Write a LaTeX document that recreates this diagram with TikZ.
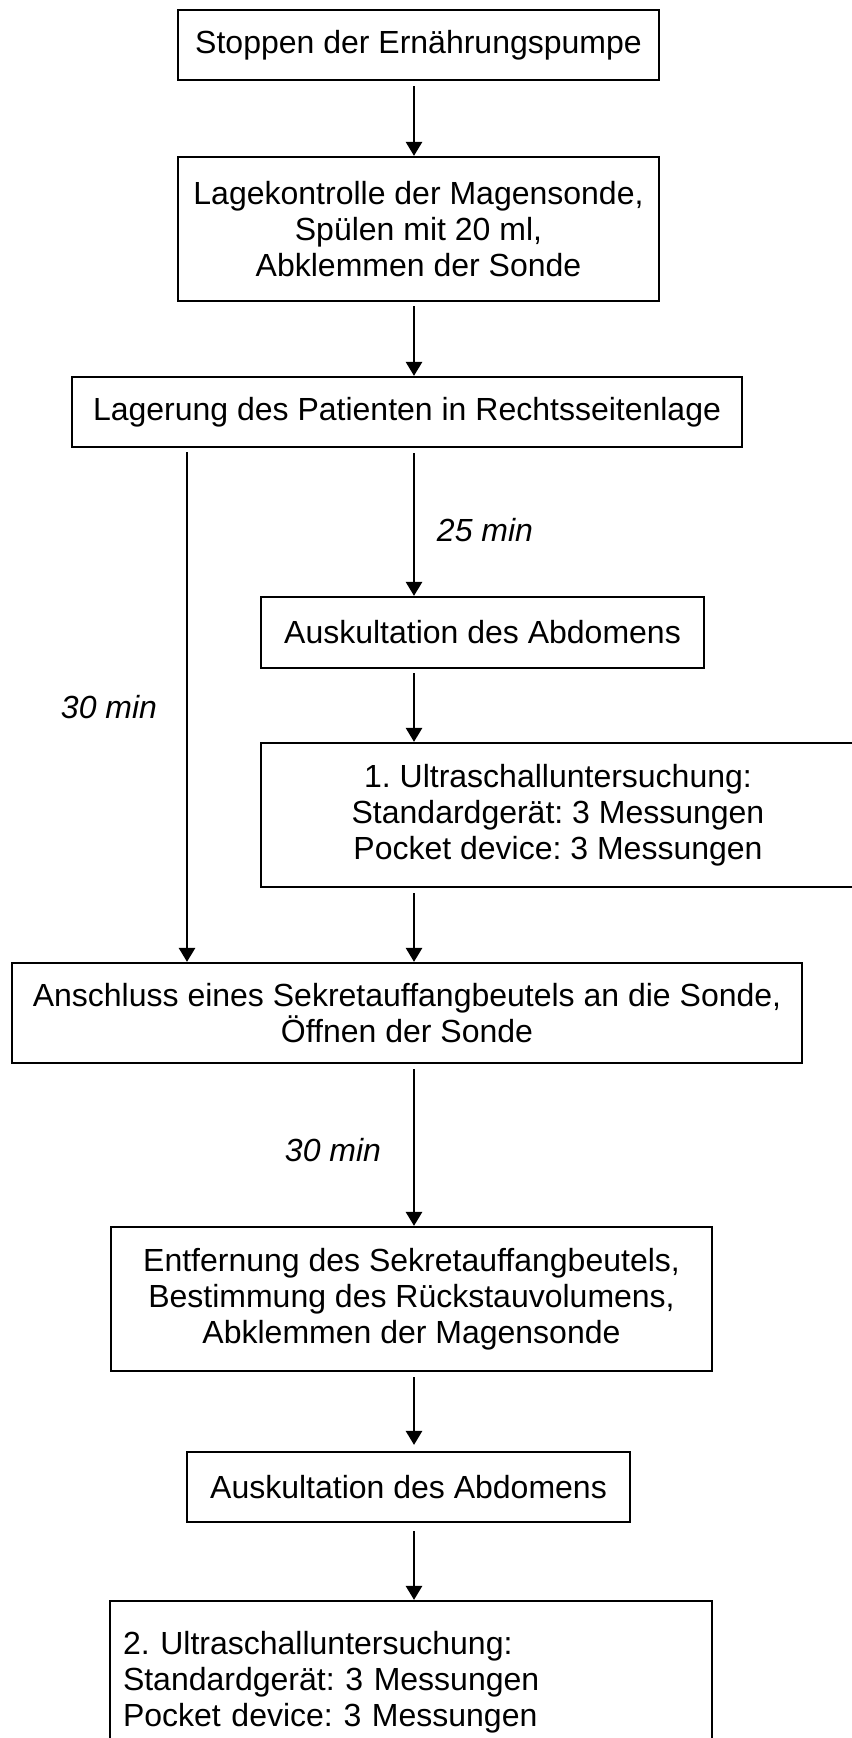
\documentclass[tikz,border=0pt]{standalone}
\usepackage{fontspec}
\setmainfont{Liberation Sans}
\usetikzlibrary{arrows.meta}
\begin{document}
\frenchspacing
\begin{tikzpicture}[x=0.5pt,y=-0.5pt,
    font=\fontsize{16}{18}\selectfont,
    box/.style={draw,line width=1.1pt,inner sep=0pt,align=center},
    arr/.style={line width=1.3pt,-{Triangle[width=8pt,length=7pt]}},
    lbl/.style={font=\fontsize{16}{18}\selectfont\itshape}]
\useasboundingbox (0,0) rectangle (851,1738);
\coordinate (ax) at (414,0);
\coordinate (lx) at (187,0);
% Schritte
\node[box,minimum width=240.5pt,minimum height=35pt] (stopp) at (418.5,45) {Stoppen der Ernährungspumpe};
\node[box,minimum width=240.5pt,minimum height=72pt] (lage) at (418.5,229) {Lagekontrolle der Magensonde,\\Spülen mit 20 ml,\\Abklemmen der Sonde};
\node[box,minimum width=335pt,minimum height=35pt] (rechts) at (407,412) {Lagerung des Patienten in Rechtsseitenlage};
\node[box,minimum width=221.5pt,minimum height=35.5pt] (ausk1) at (482.5,632.5) {Auskultation des Abdomens};
\node[box,minimum width=297pt,minimum height=72pt] (us1) at (558,815) {1. Ultraschalluntersuchung:\\Standardgerät: 3 Messungen\\Pocket device: 3 Messungen};
\node[box,minimum width=395pt,minimum height=50pt] (beutel) at (407,1013) {Anschluss eines Sekretauffangbeutels an die Sonde,\\Öffnen der Sonde};
\node[box,minimum width=300.5pt,minimum height=72pt] (entf) at (411.5,1299) {Entfernung des Sekretauffangbeutels,\\Bestimmung des Rückstauvolumens,\\Abklemmen der Magensonde};
\node[box,minimum width=221.5pt,minimum height=35pt] (ausk2) at (408.5,1487) {Auskultation des Abdomens};
\node[box,align=left,text width=288pt,inner xsep=6.5pt,minimum height=81pt] (us2) at (411,1682) {2. Ultraschalluntersuchung:\\Standardgerät: 3 Messungen\\Pocket device: 3 Messungen};
% Pfeile
\draw[arr,shorten <=2.5pt] (stopp.south -| ax) -- (lage.north -| ax);
\draw[arr,shorten <=2pt] (lage.south -| ax) -- (rechts.north -| ax);
\draw[arr,shorten <=2.5pt] (rechts.south -| ax) -- (ausk1.north -| ax);
\draw[arr,shorten <=2pt] (rechts.south -| lx) -- (beutel.north -| lx);
\draw[arr,shorten <=2pt] (ausk1.south -| ax) -- (us1.north -| ax);
\draw[arr,shorten <=2.5pt] (us1.south -| ax) -- (beutel.north -| ax);
\draw[arr,shorten <=2.5pt] (beutel.south -| ax) -- (entf.north -| ax);
\draw[arr,shorten <=2.5pt,shorten >=3pt] (entf.south -| ax) -- (ausk2.north -| ax);
\draw[arr,shorten <=4pt] (ausk2.south -| ax) -- (us2.north -| ax);
% Zeiten
\node[lbl] (t25) at (485,530) {25 min};
\node[lbl] (t30a) at (109,707) {30 min};
\node[lbl] (t30b) at (333,1150) {30 min};
\end{tikzpicture}
\end{document}
